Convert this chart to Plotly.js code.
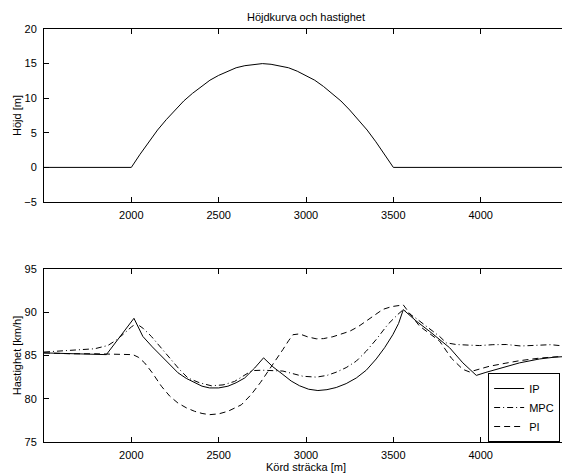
<!DOCTYPE html>
<html>
<head>
<meta charset="utf-8">
<script src="https://cdn.plot.ly/plotly-3.0.1.min.js"></script>
<style>
html,body{margin:0;padding:0;overflow:hidden;background:#fff;}
#chart{width:580px;height:475px;}
</style>
</head>
<body>
<div id="chart"></div>
<script>
// Top: height profile
const heightX = [1500, 2000, 2050, 2100, 2150, 2200, 2250, 2300, 2350, 2400, 2450, 2500, 2550, 2600, 2650, 2700, 2750, 2800, 2850, 2900, 2950, 3000, 3050, 3100, 3150, 3200, 3250, 3300, 3350, 3400, 3450, 3500, 4500];
const heightY = [0, 0, 1.9, 3.7, 5.4, 6.9, 8.3, 9.6, 10.7, 11.7, 12.6, 13.3, 13.9, 14.4, 14.7, 14.9, 15, 14.9, 14.7, 14.4, 13.9, 13.3, 12.6, 11.7, 10.7, 9.6, 8.3, 6.9, 5.4, 3.7, 1.9, 0, 0];

// Bottom: speed for the three controllers
const ipX = [1500, 1650, 1790, 1857, 2015, 2066, 2120, 2172, 2220, 2267, 2315, 2362, 2405, 2448, 2500, 2553, 2600, 2649, 2706, 2757, 2810, 2868, 2915, 2963, 3015, 3068, 3120, 3173, 3230, 3288, 3345, 3402, 3450, 3497, 3530, 3557, 3630, 3707, 3765, 3822, 3898, 3975, 4030, 4089, 4150, 4223, 4337, 4420, 4500];
const ipY = [85.3, 85.2, 85.15, 85.1, 89.3, 87.2, 86.0, 84.9, 83.9, 83.0, 82.35, 81.85, 81.45, 81.25, 81.25, 81.45, 81.85, 82.4, 83.55, 84.73, 83.7, 82.8, 82.05, 81.5, 81.1, 80.95, 81.05, 81.3, 81.75, 82.4, 83.3, 84.6, 85.9, 87.4, 88.7, 90.3, 89.0, 87.8, 86.8, 85.9, 84.15, 82.7, 83.05, 83.4, 83.8, 84.15, 84.6, 84.8, 84.9];

const mpcX = [1500, 1650, 1790, 1866, 1915, 1962, 2000, 2029, 2070, 2115, 2170, 2229, 2275, 2324, 2390, 2458, 2525, 2591, 2650, 2690, 2750, 2810, 2868, 2925, 2982, 3059, 3120, 3173, 3230, 3288, 3345, 3402, 3469, 3526, 3557, 3630, 3707, 3765, 3803, 3860, 3930, 3994, 4070, 4147, 4230, 4318, 4400, 4452, 4500];
const mpcY = [85.4, 85.6, 85.78, 86.16, 86.8, 87.6, 88.3, 88.7, 88.1, 87.2, 85.9, 84.5, 83.4, 82.4, 81.85, 81.5, 81.6, 82.0, 82.7, 83.25, 83.3, 83.26, 83.2, 82.9, 82.6, 82.5, 82.7, 83.07, 83.6, 84.35, 85.5, 86.85, 88.6, 89.75, 90.3, 89.3, 88.1, 87.2, 86.47, 86.27, 86.2, 86.15, 86.25, 86.27, 86.1, 86.2, 86.25, 86.15, 86.1];

const piX = [1500, 1650, 1790, 1900, 2009, 2040, 2076, 2120, 2172, 2220, 2267, 2315, 2362, 2405, 2448, 2500, 2553, 2630, 2687, 2740, 2792, 2830, 2868, 2900, 2925, 2963, 3010, 3059, 3100, 3154, 3200, 3250, 3300, 3345, 3390, 3440, 3490, 3536, 3557, 3600, 3650, 3710, 3765, 3832, 3898, 3936, 3990, 4051, 4140, 4223, 4337, 4420, 4500];
const piY = [85.3, 85.2, 85.2, 85.15, 85.1, 84.8, 84.15, 83.0, 81.45, 80.3, 79.5, 78.95, 78.55, 78.3, 78.16, 78.25, 78.55, 79.3, 80.5, 81.9, 83.4, 84.6, 85.7, 86.7, 87.4, 87.5, 87.15, 86.93, 86.95, 87.17, 87.45, 87.8, 88.35, 88.97, 89.65, 90.33, 90.65, 90.8, 90.85, 89.7, 88.4, 87.5, 86.66, 84.7, 83.4, 83.1, 83.4, 83.76, 84.1, 84.4, 84.7, 84.85, 84.95];

const seriesNames = ['IP', 'MPC', 'PI'];
const xTicks = [2000, 2500, 3000, 3500, 4000];
const topTicks = [-5, 0, 5, 10, 15, 20];
const bottomTicks = [75, 80, 85, 90, 95];

const FONT = 'Liberation Sans, Arial, Helvetica, sans-serif';

const traces = [
  {x: heightX, y: heightY, xaxis: 'x', yaxis: 'y', type: 'scatter', mode: 'lines',
   line: {color: '#000', width: 1}, showlegend: false, hoverinfo: 'skip'},
  {x: ipX, y: ipY, xaxis: 'x2', yaxis: 'y2', type: 'scatter', mode: 'lines', name: seriesNames[0],
   line: {color: '#000', width: 1, dash: 'solid'}},
  {x: mpcX, y: mpcY, xaxis: 'x2', yaxis: 'y2', type: 'scatter', mode: 'lines', name: seriesNames[1],
   line: {color: '#000', width: 1, dash: '6px,3px,1px,3px'}},
  {x: piX, y: piY, xaxis: 'x2', yaxis: 'y2', type: 'scatter', mode: 'lines', name: seriesNames[2],
   line: {color: '#000', width: 1, dash: '6px,4px'}}
];

const axisCommon = {
  showline: true, linecolor: '#000', linewidth: 1, mirror: 'ticks',
  ticks: 'inside', ticklen: 5, tickwidth: 1, tickcolor: '#000',
  showgrid: false, zeroline: false,
  tickfont: {family: FONT, size: 11, color: '#000'}
};

const layout = {
  width: 580, height: 475,
  margin: {l: 44, r: 12, t: 29, b: 33},
  paper_bgcolor: '#fff', plot_bgcolor: '#fff',
  font: {family: FONT, size: 11, color: '#000'},
  title: {text: 'Höjdkurva och hastighet', font: {family: FONT, size: 11, color: '#000'},
          x: 0.5, xref: 'paper', y: 1, yref: 'paper', yanchor: 'bottom', pad: {b: 8}},
  xaxis: Object.assign({}, axisCommon, {domain: [0, 1], anchor: 'y', range: [1500, 4500],
          tickmode: 'array', tickvals: xTicks, ticklabelstandoff: 3}),
  yaxis: Object.assign({}, axisCommon, {domain: [0.5811, 1], anchor: 'x', range: [-5, 20],
          tickmode: 'array', tickvals: topTicks, ticklabelstandoff: 4,
          title: {text: 'Höjd [m]', font: {family: FONT, size: 11, color: '#000'}, standoff: 0}}),
  xaxis2: Object.assign({}, axisCommon, {domain: [0, 1], anchor: 'y2', range: [1500, 4500],
          tickmode: 'array', tickvals: xTicks, ticklabelstandoff: 3,
          title: {text: 'Körd sträcka [m]', font: {family: FONT, size: 11, color: '#000'}, standoff: 2}}),
  yaxis2: Object.assign({}, axisCommon, {domain: [0, 0.4189], anchor: 'x2', range: [75, 95],
          tickmode: 'array', tickvals: bottomTicks, ticklabelstandoff: 4,
          title: {text: 'Hastighet [km/h]', font: {family: FONT, size: 11, color: '#000'}, standoff: 0}}),
  showlegend: true,
  legend: {x: 0.985, xanchor: 'right', y: 0, yanchor: 'bottom', xref: 'paper', yref: 'paper',
           bgcolor: '#fff', bordercolor: '#000', borderwidth: 1,
           font: {family: FONT, size: 11, color: '#000'}, tracegroupgap: 0, itemwidth: 30}
};

Plotly.newPlot('chart', traces, layout, {displayModeBar: false, staticPlot: true});
</script>
</body>
</html>
